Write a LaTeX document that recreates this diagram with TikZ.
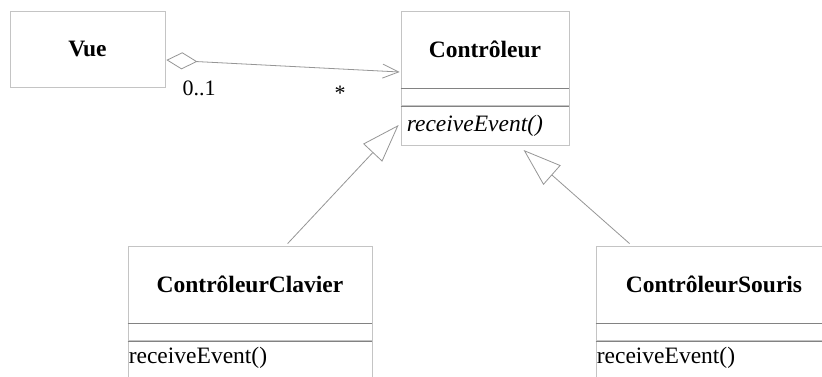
\documentclass[tikz,border=0pt]{standalone}
\usepackage{fontspec}
\setmainfont{Liberation Serif}
\usetikzlibrary{arrows.meta,calc}
\definecolor{boxgray}{RGB}{196,196,196}
\definecolor{sepgray}{RGB}{130,130,130}
\definecolor{linegray}{RGB}{150,150,150}
\tikzset{
  classname/.style={draw=boxgray, line width=0.8pt, rectangle, inner sep=0pt,
    font=\fontsize{23.5}{27}\selectfont\bfseries},
  compbox/.style={draw=boxgray, line width=0.8pt, rectangle, inner sep=0pt, anchor=north},
  sepline/.style={draw=sepgray, line width=0.8pt},
  optext/.style={anchor=base west, inner sep=0pt, font=\fontsize{23.5}{27}\selectfont},
  multlabel/.style={inner sep=0pt, font=\fontsize{22}{26}\selectfont},
  assoc/.style={draw=linegray, line width=0.8pt,
    {Diamond[open,length=31pt,width=17pt]}-{Straight Barb[length=16pt,width=14pt]}},
  inherit/.style={draw=linegray, line width=0.8pt, -{Triangle[open,length=38pt,width=26pt]}}
}
\begin{document}
\begin{tikzpicture}[x=1pt,y=-1pt]
\clip (0,0) rectangle (822,376);
\fill[white] (0,0) rectangle (822,376);

% Vue
\node[classname, minimum width=155pt, minimum height=76pt] (vue) at (87.5,49) {Vue};

% Controleur
\node[classname, minimum width=168pt, minimum height=77pt] (ctrl) at (485,49.5) {Contrôleur};
\node[compbox, minimum width=168pt, minimum height=17pt] (ctrlattr) at (ctrl.south) {};
\node[compbox, minimum width=168pt, minimum height=39pt] (ctrlops) at (ctrlattr.south) {};
\draw[sepline] (ctrlattr.north west) -- (ctrlattr.north east);
\draw[sepline] (ctrlattr.south west) -- (ctrlattr.south east);
\node[optext, font=\fontsize{23.5}{27}\selectfont\itshape] (ctrlop) at ($(ctrlops.north west)+(6,25)$) {receiveEvent()};

% ControleurClavier
\node[classname, minimum width=244pt, minimum height=77pt] (clav) at (250,284.5) {ContrôleurClavier};
\node[compbox, minimum width=244pt, minimum height=17pt] (clavattr) at (clav.south) {};
\node[compbox, minimum width=244pt, minimum height=45pt] (clavops) at (clavattr.south) {};
\draw[sepline] (clavattr.north west) -- (clavattr.north east);
\draw[sepline] (clavattr.south west) -- (clavattr.south east);
\node[optext] (clavop) at ($(clavops.north west)+(1,22)$) {receiveEvent()};

% ControleurSouris
\node[classname, minimum width=236pt, minimum height=77pt] (sour) at (714,284.5) {ContrôleurSouris};
\node[compbox, minimum width=236pt, minimum height=17pt] (sourattr) at (sour.south) {};
\node[compbox, minimum width=236pt, minimum height=45pt] (sourops) at (sourattr.south) {};
\draw[sepline] (sourattr.north west) -- (sourattr.north east);
\draw[sepline] (sourattr.south west) -- (sourattr.south east);
\node[optext] (sourop) at ($(sourops.north west)+(1,22)$) {receiveEvent()};

% Association
\draw[assoc] ($(vue.east)+(1,11)$) -- ($(ctrl.west)+(-1,22.5)$);
\node[multlabel] (m01) at (199,88) {0..1};
\node[multlabel] (mstar) at (340,93) {*};

% Inheritance
\draw[inherit] ($(clav.north west)+(160,-2)$) -- ($(ctrlops.south west)+(-2,-21)$);
\draw[inherit] ($(sour.north west)+(34,-2)$) -- ($(ctrlops.south west)+(123,4)$);
\end{tikzpicture}
\end{document}
